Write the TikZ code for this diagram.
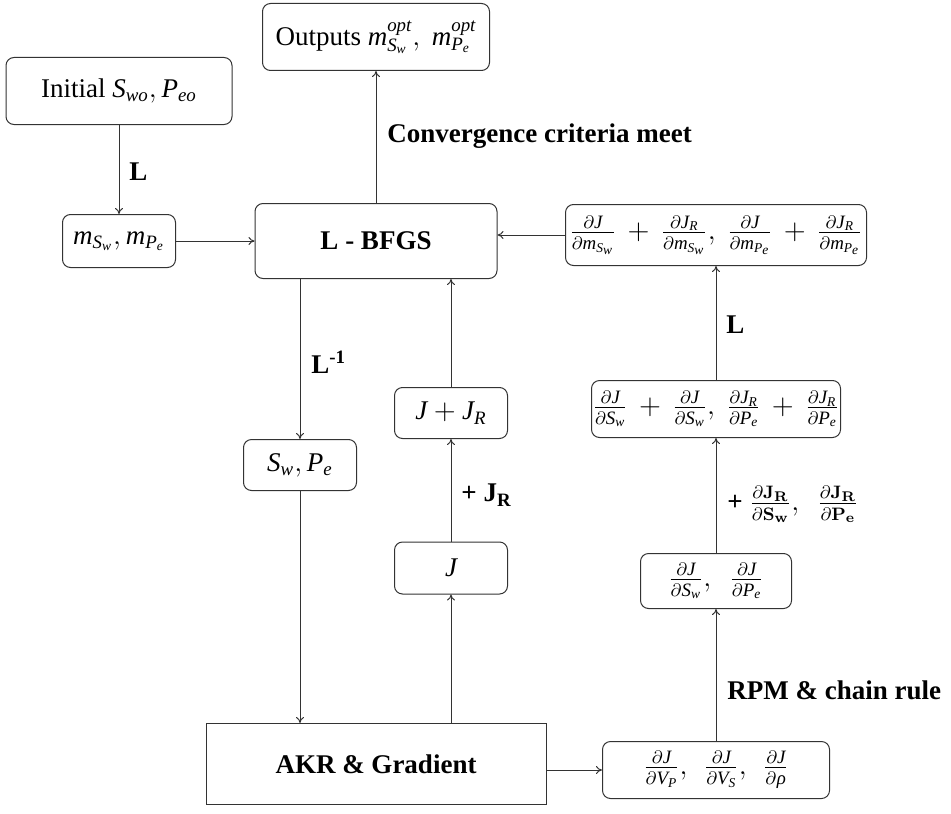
\documentclass[tikz,border=0pt]{standalone}
\usepackage{mathspec}
\setmainfont{Liberation Serif}
\setmathsfont(Digits,Latin,Greek){Liberation Serif}
\usetikzlibrary{arrows.meta}
\begin{document}
\begin{tikzpicture}[x=0.5pt,y=-0.5pt,
  bx/.style={draw=black!80,line width=0.5pt,rounded corners=4pt,inner sep=0pt,align=center,font=\fontsize{13.5}{16}\selectfont},
  sq/.style={draw=black!80,line width=0.5pt,inner sep=0pt,align=center,font=\fontsize{13.5}{16}\selectfont\bfseries},
  lb/.style={anchor=west,inner sep=0pt,font=\fontsize{13.5}{16}\selectfont\bfseries},
  ar/.style={draw=black!80,line width=0.5pt,-{To[length=3pt,width=4pt]}}]
\useasboundingbox (0,0) rectangle (951,813);
\node[bx,minimum width=113pt,minimum height=33.5pt] (init) at (119,91) {Initial $S_{wo}, P_{eo}$};
\node[bx,minimum width=113.5pt,minimum height=33.5pt] (out) at (376,37) {Outputs $m^{opt}_{S_w},\ m^{opt}_{P_e}$};
\node[bx,minimum width=56.5pt,minimum height=26.5pt] (m) at (119,241) {$m_{S_w}, m_{P_e}$};
\node[bx,minimum width=121pt,minimum height=37.5pt,font=\fontsize{13.5}{16}\selectfont\bfseries] (bfgs) at (376,241) {L - BFGS};
\node[bx,minimum width=150.5pt,minimum height=30.5pt] (tg) at (716,235) {$\frac{\partial J}{\partial m_{S_w}}\,+\,\frac{\partial J_R}{\partial m_{S_w}},\ \frac{\partial J}{\partial m_{P_e}}\,+\,\frac{\partial J_R}{\partial m_{P_e}}$};
\node[bx,minimum width=124.5pt,minimum height=28.5pt] (mg) at (716,409) {$\frac{\partial J}{\partial S_w}\,+\,\frac{\partial J}{\partial S_w},\ \frac{\partial J_R}{\partial P_e}\,+\,\frac{\partial J_R}{\partial P_e}$};
\node[bx,minimum width=75.5pt,minimum height=27.5pt] (ds) at (716,581) {$\frac{\partial J}{\partial S_w},\ \ \frac{\partial J}{\partial P_e}$};
\node[bx,minimum width=113.5pt,minimum height=28.5pt] (dv) at (716,770) {$\frac{\partial J}{\partial V_P},\ \,\frac{\partial J}{\partial V_S},\ \,\frac{\partial J}{\partial \rho}$};
\node[sq,minimum width=170pt,minimum height=40.5pt] (akr) at (376,764) {AKR \& Gradient};
\node[bx,minimum width=56.5pt,minimum height=25.5pt] (sw) at (300,465) {$S_w, P_e$};
\node[bx,minimum width=56.5pt,minimum height=25.5pt] (jjr) at (451,413) {$J+J_R$};
\node[bx,minimum width=56.5pt,minimum height=26pt] (j) at (451,568) {$J$};
\node[lb] (l1) at (129,172) {L};
\node[lb] (conv) at (387,136) {Convergence criteria meet};
\node[lb] (linv) at (311,362) {L\textsuperscript{-1}};
\node[lb] (pjr) at (461,495) {+ J\textsubscript{R}};
\node[lb] (pd) at (727,504) {+ $\frac{\partial \mathbf{J}_{\mathbf{R}}}{\partial \mathbf{S}_{\mathbf{w}}},\ \ \frac{\partial \mathbf{J}_{\mathbf{R}}}{\partial \mathbf{P}_{\mathbf{e}}}$};
\node[lb] (l2) at (726,325) {L};
\node[lb] (rpm) at (727,690) {RPM \& chain rule};
\draw[ar] (init.south) -- (m.north);
\draw[ar] (m.east) -- (bfgs.west);
\draw[ar] (bfgs.north) -- (out.south);
\draw[ar] (tg.west) -- (tg.west -| bfgs.east);
\draw[ar] (bfgs.south -| sw.north) -- (sw.north);
\draw[ar] (sw.south) -- (sw.south |- akr.north);
\draw[ar] (akr.north -| j.south) -- (j.south);
\draw[ar] (j.north) -- (jjr.south);
\draw[ar] (jjr.north) -- (jjr.north |- bfgs.south);
\draw[ar] (dv.west -| akr.east) -- (dv.west);
\draw[ar] (dv.north) -- (ds.south);
\draw[ar] (ds.north) -- (mg.south);
\draw[ar] (mg.north) -- (tg.south);
\end{tikzpicture}
\end{document}
